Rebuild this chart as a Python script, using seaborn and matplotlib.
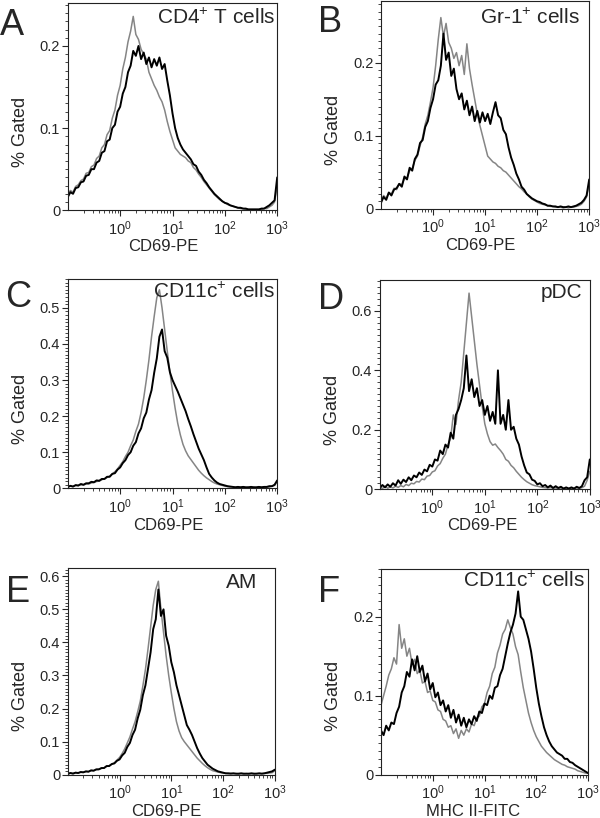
import numpy as np
import matplotlib
matplotlib.use("Agg")
import matplotlib.pyplot as plt
import seaborn as sns
from matplotlib.ticker import MultipleLocator, FuncFormatter

sns.set_style("ticks")
plt.rcParams['font.family'] = ['Liberation Sans', 'DejaVu Sans']
plt.rcParams['mathtext.default'] = 'regular'

# bin positions (log10 of fluorescence), shared by all histograms
LOG_X = [-1.00, -0.95, -0.90, -0.85, -0.80, -0.75, -0.70, -0.65, -0.60, -0.55,
         -0.50, -0.45, -0.40, -0.35, -0.30, -0.25, -0.20, -0.15, -0.10, -0.05,
         0.00, 0.05, 0.10, 0.15, 0.20, 0.25, 0.30, 0.35, 0.40, 0.45,
         0.50, 0.55, 0.60, 0.65, 0.70, 0.75, 0.80, 0.85, 0.90, 0.95,
         1.00, 1.05, 1.10, 1.15, 1.20, 1.25, 1.30, 1.35, 1.40, 1.45,
         1.50, 1.55, 1.60, 1.65, 1.70, 1.75, 1.80, 1.85, 1.90, 1.95,
         2.00, 2.05, 2.10, 2.15, 2.20, 2.25, 2.30, 2.35, 2.40, 2.45,
         2.50, 2.55, 2.60, 2.65, 2.70, 2.75, 2.80, 2.85, 2.90, 2.95,
         3.00]

# A - CD4+ T cells
A_GRAY = [0.020, 0.024, 0.022, 0.029, 0.031, 0.036, 0.038, 0.045, 0.046, 0.053,
          0.055, 0.063, 0.066, 0.076, 0.080, 0.092, 0.097, 0.112, 0.122, 0.140,
          0.152, 0.172, 0.186, 0.205, 0.218, 0.236, 0.214, 0.208, 0.196, 0.190,
          0.184, 0.168, 0.160, 0.152, 0.146, 0.138, 0.132, 0.122, 0.108, 0.096,
          0.086, 0.076, 0.072, 0.068, 0.066, 0.064, 0.060, 0.058, 0.052, 0.049,
          0.044, 0.040, 0.035, 0.031, 0.027, 0.023, 0.019, 0.016, 0.013, 0.011,
          0.009, 0.007, 0.006, 0.005, 0.004, 0.003, 0.002, 0.002, 0.001, 0.001,
          0.001, 0.001, 0.001, 0.001, 0.001, 0.002, 0.002, 0.004, 0.006, 0.010,
          0.030]
A_BLACK = [0.016, 0.022, 0.020, 0.027, 0.028, 0.034, 0.035, 0.042, 0.043, 0.050,
           0.050, 0.058, 0.060, 0.070, 0.072, 0.084, 0.086, 0.100, 0.104, 0.120,
           0.126, 0.142, 0.150, 0.168, 0.176, 0.194, 0.188, 0.200, 0.184, 0.192,
           0.178, 0.186, 0.174, 0.184, 0.176, 0.186, 0.172, 0.178, 0.158, 0.140,
           0.118, 0.100, 0.088, 0.080, 0.074, 0.070, 0.066, 0.062, 0.056, 0.054,
           0.047, 0.043, 0.037, 0.033, 0.028, 0.024, 0.020, 0.017, 0.014, 0.011,
           0.009, 0.008, 0.006, 0.005, 0.004, 0.003, 0.003, 0.002, 0.002, 0.001,
           0.001, 0.001, 0.001, 0.001, 0.002, 0.002, 0.004, 0.006, 0.009, 0.012,
           0.040]

# B - Gr-1+ cells
B_GRAY = [0.010, 0.018, 0.014, 0.022, 0.020, 0.028, 0.026, 0.034, 0.033, 0.041,
          0.042, 0.052, 0.055, 0.066, 0.072, 0.086, 0.098, 0.116, 0.128, 0.146,
          0.166, 0.196, 0.232, 0.262, 0.236, 0.254, 0.228, 0.220, 0.206, 0.214,
          0.196, 0.210, 0.184, 0.226, 0.192, 0.170, 0.150, 0.130, 0.114, 0.100,
          0.086, 0.072, 0.068, 0.064, 0.062, 0.058, 0.056, 0.052, 0.050, 0.046,
          0.042, 0.038, 0.034, 0.030, 0.027, 0.023, 0.020, 0.016, 0.013, 0.011,
          0.009, 0.007, 0.006, 0.005, 0.004, 0.003, 0.003, 0.002, 0.002, 0.002,
          0.001, 0.002, 0.001, 0.002, 0.002, 0.003, 0.004, 0.006, 0.010, 0.016,
          0.034]
B_BLACK = [0.008, 0.016, 0.012, 0.022, 0.018, 0.026, 0.028, 0.034, 0.030, 0.044,
           0.040, 0.056, 0.052, 0.068, 0.074, 0.090, 0.094, 0.112, 0.120, 0.138,
           0.150, 0.170, 0.176, 0.196, 0.240, 0.204, 0.214, 0.182, 0.192, 0.164,
           0.150, 0.158, 0.136, 0.148, 0.128, 0.140, 0.120, 0.134, 0.118, 0.132,
           0.120, 0.130, 0.116, 0.132, 0.146, 0.128, 0.124, 0.108, 0.102, 0.084,
           0.070, 0.060, 0.048, 0.040, 0.030, 0.026, 0.020, 0.017, 0.014, 0.012,
           0.010, 0.009, 0.007, 0.006, 0.004, 0.004, 0.003, 0.003, 0.002, 0.003,
           0.002, 0.002, 0.003, 0.002, 0.003, 0.004, 0.006, 0.008, 0.012, 0.018,
           0.040]

# C - CD11c+ cells
C_GRAY = [0.004, 0.006, 0.005, 0.008, 0.007, 0.010, 0.009, 0.012, 0.012, 0.015,
          0.016, 0.019, 0.020, 0.024, 0.026, 0.030, 0.034, 0.040, 0.046, 0.054,
          0.064, 0.074, 0.088, 0.100, 0.118, 0.134, 0.158, 0.178, 0.210, 0.250,
          0.300, 0.356, 0.420, 0.476, 0.528, 0.550, 0.500, 0.440, 0.380, 0.322,
          0.270, 0.222, 0.180, 0.148, 0.122, 0.104, 0.090, 0.080, 0.070, 0.060,
          0.050, 0.042, 0.035, 0.029, 0.024, 0.019, 0.015, 0.012, 0.010, 0.008,
          0.006, 0.005, 0.004, 0.004, 0.003, 0.003, 0.003, 0.003, 0.002, 0.003,
          0.002, 0.003, 0.002, 0.003, 0.003, 0.003, 0.003, 0.004, 0.006, 0.008,
          0.018]
C_BLACK = [0.004, 0.007, 0.005, 0.009, 0.008, 0.012, 0.010, 0.014, 0.014, 0.018,
           0.017, 0.022, 0.021, 0.026, 0.026, 0.032, 0.032, 0.040, 0.042, 0.052,
           0.058, 0.070, 0.078, 0.092, 0.100, 0.118, 0.128, 0.152, 0.166, 0.194,
           0.210, 0.246, 0.272, 0.320, 0.360, 0.420, 0.440, 0.380, 0.362, 0.322,
           0.300, 0.284, 0.268, 0.250, 0.232, 0.214, 0.192, 0.172, 0.150, 0.130,
           0.110, 0.094, 0.078, 0.058, 0.040, 0.030, 0.022, 0.016, 0.012, 0.010,
           0.008, 0.006, 0.005, 0.004, 0.003, 0.004, 0.003, 0.004, 0.003, 0.003,
           0.004, 0.003, 0.003, 0.004, 0.003, 0.004, 0.004, 0.006, 0.006, 0.010,
           0.022]

# D - pDC
D_GRAY = [0.006, 0.002, 0.010, 0.003, 0.008, 0.004, 0.010, 0.006, 0.012, 0.008,
          0.016, 0.012, 0.020, 0.018, 0.026, 0.024, 0.034, 0.032, 0.044, 0.046,
          0.058, 0.062, 0.078, 0.086, 0.104, 0.118, 0.150, 0.172, 0.250, 0.218,
          0.300, 0.360, 0.460, 0.560, 0.660, 0.580, 0.500, 0.420, 0.350, 0.280,
          0.220, 0.186, 0.160, 0.148, 0.152, 0.140, 0.130, 0.118, 0.100, 0.094,
          0.080, 0.072, 0.060, 0.050, 0.040, 0.032, 0.025, 0.020, 0.015, 0.012,
          0.010, 0.008, 0.006, 0.005, 0.004, 0.005, 0.003, 0.004, 0.002, 0.004,
          0.002, 0.003, 0.002, 0.003, 0.002, 0.004, 0.003, 0.005, 0.010, 0.030,
          0.060]
D_BLACK = [0.004, 0.014, 0.006, 0.016, 0.008, 0.020, 0.012, 0.030, 0.018, 0.032,
           0.024, 0.040, 0.030, 0.046, 0.040, 0.056, 0.048, 0.066, 0.060, 0.082,
           0.076, 0.100, 0.096, 0.130, 0.118, 0.150, 0.140, 0.190, 0.170, 0.250,
           0.270, 0.300, 0.340, 0.450, 0.330, 0.370, 0.310, 0.340, 0.280, 0.300,
           0.250, 0.280, 0.230, 0.260, 0.220, 0.400, 0.220, 0.250, 0.200, 0.300,
           0.200, 0.210, 0.170, 0.150, 0.110, 0.080, 0.056, 0.050, 0.032, 0.028,
           0.016, 0.020, 0.010, 0.014, 0.006, 0.012, 0.004, 0.010, 0.004, 0.008,
           0.002, 0.006, 0.002, 0.006, 0.002, 0.008, 0.004, 0.010, 0.030, 0.040,
           0.100]

# E - AM
E_GRAY = [0.003, 0.005, 0.004, 0.006, 0.005, 0.007, 0.007, 0.009, 0.009, 0.012,
          0.012, 0.015, 0.016, 0.019, 0.020, 0.025, 0.027, 0.032, 0.036, 0.044,
          0.052, 0.064, 0.078, 0.096, 0.114, 0.138, 0.160, 0.190, 0.222, 0.268,
          0.318, 0.380, 0.446, 0.512, 0.560, 0.585, 0.500, 0.430, 0.360, 0.300,
          0.248, 0.200, 0.160, 0.132, 0.112, 0.100, 0.090, 0.080, 0.070, 0.060,
          0.050, 0.042, 0.034, 0.027, 0.021, 0.016, 0.012, 0.010, 0.008, 0.006,
          0.005, 0.004, 0.003, 0.004, 0.003, 0.003, 0.002, 0.003, 0.002, 0.003,
          0.002, 0.003, 0.002, 0.003, 0.003, 0.003, 0.004, 0.004, 0.005, 0.006,
          0.012]
E_BLACK = [0.002, 0.005, 0.003, 0.006, 0.005, 0.008, 0.007, 0.010, 0.009, 0.013,
           0.012, 0.016, 0.016, 0.020, 0.020, 0.026, 0.026, 0.032, 0.034, 0.042,
           0.046, 0.058, 0.066, 0.084, 0.096, 0.120, 0.136, 0.170, 0.196, 0.240,
           0.270, 0.320, 0.370, 0.440, 0.470, 0.560, 0.480, 0.500, 0.420, 0.390,
           0.340, 0.310, 0.270, 0.240, 0.210, 0.180, 0.150, 0.136, 0.120, 0.100,
           0.080, 0.064, 0.050, 0.040, 0.030, 0.024, 0.018, 0.014, 0.010, 0.008,
           0.006, 0.004, 0.004, 0.003, 0.004, 0.003, 0.003, 0.004, 0.003, 0.003,
           0.003, 0.004, 0.003, 0.003, 0.004, 0.003, 0.004, 0.006, 0.008, 0.010,
           0.015]

# F - CD11c+ cells, MHC II
F_GRAY = [0.088, 0.100, 0.112, 0.126, 0.134, 0.148, 0.140, 0.190, 0.160, 0.172,
          0.150, 0.160, 0.140, 0.146, 0.128, 0.132, 0.116, 0.118, 0.104, 0.106,
          0.094, 0.092, 0.082, 0.080, 0.070, 0.068, 0.060, 0.062, 0.052, 0.058,
          0.046, 0.056, 0.050, 0.058, 0.054, 0.064, 0.062, 0.072, 0.074, 0.086,
          0.090, 0.104, 0.112, 0.128, 0.136, 0.154, 0.164, 0.178, 0.184, 0.196,
          0.186, 0.178, 0.162, 0.152, 0.130, 0.110, 0.094, 0.078, 0.066, 0.056,
          0.048, 0.042, 0.036, 0.032, 0.028, 0.025, 0.022, 0.019, 0.017, 0.015,
          0.013, 0.012, 0.010, 0.009, 0.008, 0.007, 0.005, 0.004, 0.003, 0.002,
          0.002]
F_BLACK = [0.056, 0.050, 0.062, 0.056, 0.066, 0.064, 0.078, 0.086, 0.104, 0.112,
           0.130, 0.124, 0.146, 0.132, 0.150, 0.130, 0.138, 0.118, 0.128, 0.108,
           0.116, 0.098, 0.104, 0.088, 0.094, 0.080, 0.088, 0.072, 0.082, 0.066,
           0.076, 0.062, 0.072, 0.060, 0.070, 0.064, 0.074, 0.068, 0.080, 0.078,
           0.090, 0.088, 0.100, 0.096, 0.110, 0.112, 0.126, 0.134, 0.150, 0.166,
           0.180, 0.190, 0.204, 0.232, 0.200, 0.196, 0.184, 0.172, 0.156, 0.134,
           0.110, 0.090, 0.074, 0.060, 0.050, 0.042, 0.036, 0.032, 0.028, 0.026,
           0.024, 0.020, 0.020, 0.016, 0.015, 0.012, 0.010, 0.008, 0.006, 0.004,
           0.002]

LETTERS = ["A", "B", "C", "D", "E", "F"]
TITLES = ["CD4$^{+}$ T cells", "Gr-1$^{+}$ cells", "CD11c$^{+}$ cells",
          "pDC", "AM", "CD11c$^{+}$ cells"]
XLABELS = ["CD69-PE", "CD69-PE", "CD69-PE", "CD69-PE", "CD69-PE", "MHC II-FITC"]
GRAYS = [A_GRAY, B_GRAY, C_GRAY, D_GRAY, E_GRAY, F_GRAY]
BLACKS = [A_BLACK, B_BLACK, C_BLACK, D_BLACK, E_BLACK, F_BLACK]
YMAX = [0.252, 0.285, 0.58, 0.705, 0.626, 0.261]
YSTEP = [0.1, 0.1, 0.1, 0.2, 0.1, 0.1]

# layout (in figure fractions)
rects = [
    [0.113, 0.743, 0.349, 0.253],
    [0.635, 0.745, 0.347, 0.254],
    [0.113, 0.403, 0.349, 0.256],
    [0.633, 0.402, 0.350, 0.256],
    [0.113, 0.053, 0.345, 0.253],
    [0.635, 0.053, 0.345, 0.252],
]
title_pos = [(0.99, 0.90), (0.957, 0.89), (0.99, 0.909),
             (0.962, 0.914), (0.918, 0.903), (0.985, 0.908)]
letter_pos = [(0.0, 0.957), (0.53, 0.961), (0.008, 0.6247),
              (0.53, 0.622), (0.01, 0.264), (0.53, 0.264)]
xlabel_x = [0.455, 0.476, 0.48, 0.486, 0.478, 0.445]

x = 10 ** np.array(LOG_X)

fig = plt.figure(figsize=(6.0, 8.18), dpi=100)

for i in range(6):
    ax = fig.add_axes(rects[i])
    sns.lineplot(x=x, y=GRAYS[i], color="#858585", linewidth=1.1,
                 estimator=None, ax=ax)
    sns.lineplot(x=x, y=BLACKS[i], color="black", linewidth=1.4,
                 estimator=None, ax=ax)

    ax.set_xscale("log")
    ax.set_xlim(0.1, 1000)
    ax.set_ylim(0, YMAX[i])
    ax.set_xticks([1, 10, 100, 1000])
    ax.set_xticklabels(["$10^{0}$", "$10^{1}$", "$10^{2}$", "$10^{3}$"])
    ax.yaxis.set_major_locator(MultipleLocator(YSTEP[i]))
    ax.yaxis.set_minor_locator(MultipleLocator(YSTEP[i] / 10))
    ax.yaxis.set_major_formatter(FuncFormatter(lambda v, p: f"{v:g}"))

    ax.tick_params(which="major", direction="out", length=4, width=0.8,
                   labelsize=10.5)
    ax.tick_params(axis="y", which="major", pad=1.5)
    ax.tick_params(axis="x", which="major", pad=2.5)
    ax.tick_params(which="minor", direction="out", length=2, width=0.6)
    for sp in ax.spines.values():
        sp.set_linewidth(0.8)
        sp.set_color("#222222")

    ax.set_ylabel("% Gated", fontsize=13)
    ax.yaxis.set_label_coords(-0.187, 0.38)
    ax.set_xlabel(XLABELS[i], fontsize=12, va="top")
    ax.xaxis.set_label_coords(xlabel_x[i], -0.14)

    ax.text(title_pos[i][0], title_pos[i][1], TITLES[i], transform=ax.transAxes,
            ha="right", va="baseline", fontsize=15)
    fig.text(letter_pos[i][0], letter_pos[i][1], LETTERS[i], fontsize=26,
             ha="left", va="baseline")

fig.savefig("out.png", dpi=100)
